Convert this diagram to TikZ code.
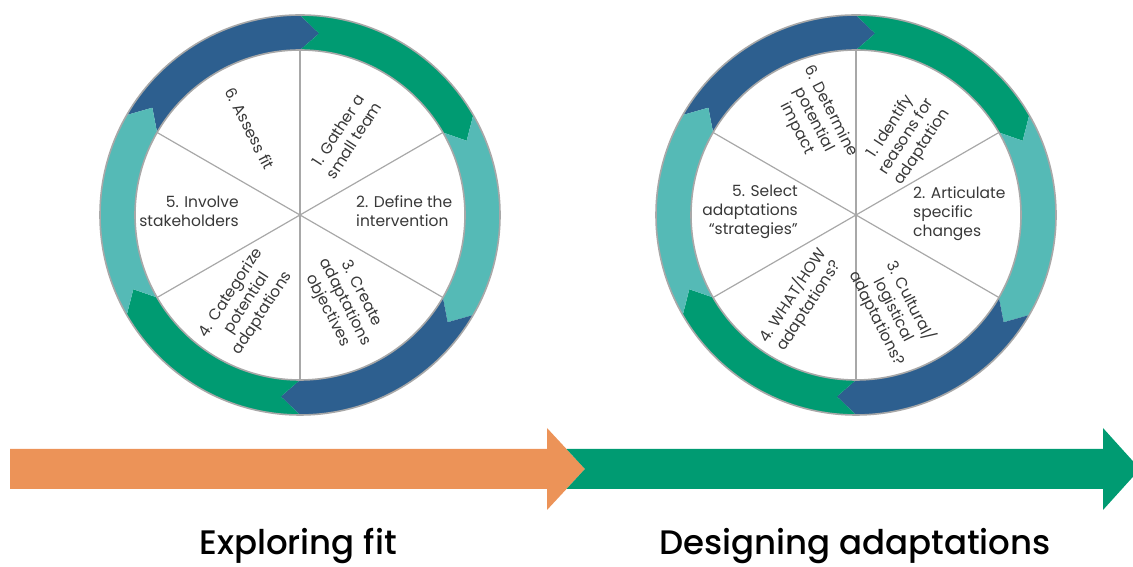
\documentclass[tikz,border=0pt]{standalone}
\usepackage{fontspec}
\setmainfont{Poppins}
\newfontfamily\titlefont{Poppins Medium}
\usepackage{tikz}
\usetikzlibrary{positioning,calc}

\definecolor{ringblue}{HTML}{2D5F8F}
\definecolor{ringgreen}{HTML}{009B72}
\definecolor{ringteal}{HTML}{55BAB6}
\definecolor{phaseorange}{HTML}{EC9358}
\definecolor{labelgray}{HTML}{383838}
\definecolor{rimgray}{HTML}{A8A8A8}

% one curved arrow of the ring: centre, start angle, colour
\newcommand{\ringseg}[3]{%
  \fill[#3,shift={(#1)}] ({#2}:200) arc[start angle={#2},end angle={#2-60},radius=200]
    -- ({#2-66}:182.5) -- ({#2-60}:165) arc[start angle={#2-60},end angle={#2},radius=165]
    -- ({#2-6}:182.5) -- cycle;}

\tikzset{
  steplabel/.style={font=\fontsize{15.5}{18.8}\selectfont, text=labelgray, align=center, inner sep=0pt},
  spoke/.style={draw=rimgray, line width=1.2},
  rimline/.style={draw=rimgray, line width=1.6},
  phaselabel/.style={font=\titlefont\fontsize{34}{36}\selectfont, text=black, anchor=base}
}

\begin{document}
\begin{tikzpicture}[x=1pt,y=1pt]
  \useasboundingbox (0,0) rectangle (1133,567);

  \coordinate (cl) at (300,352);
  \coordinate (cr) at (856,352);

  \ringseg{cl}{150}{ringblue}
  \ringseg{cl}{90}{ringgreen}
  \ringseg{cl}{30}{ringteal}
  \ringseg{cl}{-30}{ringblue}
  \ringseg{cl}{-90}{ringgreen}
  \ringseg{cl}{-150}{ringteal}

  \ringseg{cr}{150}{ringblue}
  \ringseg{cr}{90}{ringgreen}
  \ringseg{cr}{30}{ringteal}
  \ringseg{cr}{-30}{ringblue}
  \ringseg{cr}{-90}{ringgreen}
  \ringseg{cr}{-150}{ringteal}

  \draw[rimline] (cl) circle[radius=200];
  \draw[rimline] (cl) circle[radius=165];
  \draw[rimline] (cr) circle[radius=200];
  \draw[rimline] (cr) circle[radius=165];

  \draw[spoke] (cl) -- ++(90:165);
  \draw[spoke] (cl) -- ++(30:165);
  \draw[spoke] (cl) -- ++(-30:165);
  \draw[spoke] (cl) -- ++(-90:165);
  \draw[spoke] (cl) -- ++(-150:165);
  \draw[spoke] (cl) -- ++(150:165);

  \draw[spoke] (cr) -- ++(90:165);
  \draw[spoke] (cr) -- ++(30:165);
  \draw[spoke] (cr) -- ++(-30:165);
  \draw[spoke] (cr) -- ++(-90:165);
  \draw[spoke] (cr) -- ++(-150:165);
  \draw[spoke] (cr) -- ++(150:165);

  % exploring fit
  \node[steplabel, rotate=57] (fit1) at ($(cl)+(60:92)$) {1. Gather a\\small team};
  \node[steplabel, align=left, anchor=west] (fit2) at (356,356) {2. Define the\\intervention};
  \node[steplabel, rotate=-63] (fit3) at ($(cl)+(-63:98)$) {3. Create\\adaptations\\objectives};
  \node[steplabel, rotate=57] (fit4) at ($(cl)+(-121:103)$) {4. Categorize\\potential\\adaptations};
  \node[steplabel, align=right, anchor=east] (fit5) at (239,356) {5. Involve\\stakeholders};
  \node[steplabel, rotate=-63] (fit6) at ($(cl)+(120:100)$) {6. Assess fit};

  % designing adaptations
  \node[steplabel, rotate=57] (des1) at ($(cr)+(57:93)$) {1. Identify\\reasons for\\adaptation};
  \node[steplabel, align=left, anchor=west] (des2) at (913,353) {2. Articulate\\specific\\changes};
  \node[steplabel, rotate=-63] (des3) at ($(cr)+(-68:102)$) {3. Cultural/\\logistical\\adaptations?};
  \node[steplabel, rotate=57] (des4) at ($(cr)+(-123:102)$) {4. WHAT/HOW\\adaptations?};
  \node[steplabel, align=right, anchor=east] (des5) at (798,355) {5. Select\\adaptations\\“strategies”};
  \node[steplabel, rotate=-63] (des6) at ($(cr)+(114:104)$) {6. Determine\\potential\\impact};

  \fill[phaseorange] (10,118) -- (547,118) -- (547,139) -- (585,98) -- (547,57) -- (547,78) -- (10,78) -- cycle;
  \fill[ringgreen] (566.5,118) -- (1103,118) -- (1103,139) -- (1140,98) -- (1103,57) -- (1103,78) -- (566.5,78) -- (585,98) -- cycle;

  \node[phaselabel] (explore) at (298,12) {Exploring fit};
  \node[phaselabel] (design) at (855,12) {Designing adaptations};
\end{tikzpicture}
\end{document}
